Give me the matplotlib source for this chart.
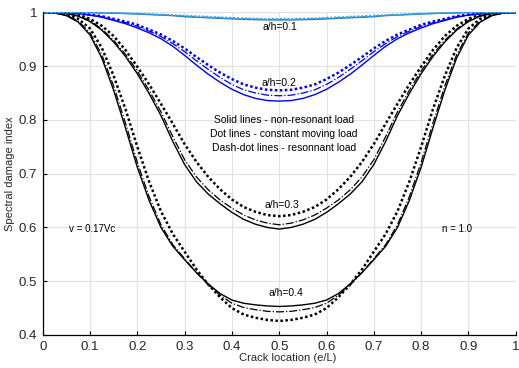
import matplotlib
matplotlib.use("Agg")
import matplotlib.pyplot as plt

plt.rcParams['font.family'] = ['Liberation Sans', 'DejaVu Sans']

# crack location, left half of the beam (curves are symmetric about e/L = 0.5)
x_half = [0.0, 0.025, 0.05, 0.075, 0.1, 0.125, 0.15, 0.175, 0.2, 0.225, 0.25,
          0.275, 0.3, 0.325, 0.35, 0.375, 0.4, 0.425, 0.45, 0.475, 0.5]

# a/h = 0.1
s1 = [1.0, 1.0, 1.0, 1.0, 0.9996, 0.999, 0.9985, 0.998, 0.997, 0.996, 0.995,
      0.994, 0.992, 0.991, 0.990, 0.989, 0.988, 0.987, 0.9865, 0.986, 0.986]
d1 = [1.0, 1.0, 1.0, 1.0, 0.9998, 0.9995, 0.999, 0.9985, 0.998, 0.997, 0.996,
      0.995, 0.994, 0.993, 0.992, 0.991, 0.990, 0.989, 0.9885, 0.988, 0.988]
c1 = [1.0, 1.0, 1.0, 1.0, 0.9997, 0.9992, 0.9988, 0.998, 0.9975, 0.9965, 0.9955,
      0.9945, 0.993, 0.992, 0.991, 0.990, 0.989, 0.988, 0.9875, 0.987, 0.987]

# a/h = 0.2
s2 = [1.0, 1.0, 0.999, 0.998, 0.995, 0.991, 0.985, 0.979, 0.971, 0.962, 0.951,
      0.937, 0.920, 0.902, 0.885, 0.870, 0.857, 0.847, 0.840, 0.836, 0.835]
d2 = [1.0, 1.0, 1.0, 0.998, 0.996, 0.993, 0.988, 0.983, 0.977, 0.968, 0.959,
      0.947, 0.933, 0.917, 0.902, 0.888, 0.876, 0.866, 0.860, 0.856, 0.855]
c2 = [1.0, 1.0, 0.999, 0.998, 0.995, 0.992, 0.986, 0.981, 0.974, 0.965, 0.955,
      0.942, 0.927, 0.910, 0.894, 0.879, 0.866, 0.856, 0.850, 0.846, 0.845]

# a/h = 0.3
s3 = [1.0, 1.0, 0.998, 0.993, 0.983, 0.967, 0.945, 0.918, 0.886, 0.849, 0.808,
      0.760, 0.717, 0.685, 0.662, 0.644, 0.628, 0.615, 0.606, 0.600, 0.597]
d3 = [1.0, 1.0, 0.999, 0.996, 0.988, 0.975, 0.956, 0.930, 0.899, 0.866, 0.830,
      0.793, 0.755, 0.722, 0.694, 0.671, 0.652, 0.638, 0.629, 0.623, 0.621]
c3 = [1.0, 1.0, 0.998, 0.994, 0.985, 0.969, 0.948, 0.922, 0.891, 0.855, 0.815,
      0.769, 0.726, 0.694, 0.670, 0.651, 0.636, 0.623, 0.614, 0.608, 0.605]

# a/h = 0.4
s4 = [1.0, 0.999, 0.994, 0.982, 0.958, 0.915, 0.855, 0.785, 0.712, 0.650, 0.600,
      0.565, 0.540, 0.516, 0.495, 0.477, 0.465, 0.459, 0.456, 0.454, 0.453]
d4 = [1.0, 1.0, 0.997, 0.988, 0.970, 0.934, 0.882, 0.820, 0.750, 0.685, 0.630,
      0.588, 0.555, 0.522, 0.494, 0.470, 0.450, 0.438, 0.432, 0.428, 0.426]
c4 = [1.0, 0.999, 0.995, 0.984, 0.962, 0.921, 0.863, 0.794, 0.721, 0.657, 0.605,
      0.568, 0.542, 0.516, 0.493, 0.474, 0.459, 0.451, 0.447, 0.444, 0.443]

x_ticks = [0, 0.1, 0.2, 0.3, 0.4, 0.5, 0.6, 0.7, 0.8, 0.9, 1]
x_tick_labels = ['0', '0.1', '0.2', '0.3', '0.4', '0.5', '0.6', '0.7', '0.8', '0.9', '1']
y_ticks = [0.4, 0.5, 0.6, 0.7, 0.8, 0.9, 1.0]
y_tick_labels = ['0.4', '0.5', '0.6', '0.7', '0.8', '0.9', '1']


def full(vals):
    # mirror the left half onto the right half
    return vals + vals[-2::-1]


x_full = x_half + [1 - v for v in x_half[-2::-1]]

fig = plt.figure(figsize=(5.19, 3.68), dpi=100)
ax = fig.add_axes([0.0823, 0.0897, 0.9114, 0.8766])

dot = (0, (1, 1))
groups = [
    (s4, d4, c4, 'black', 'black', 'black', 1.8),
    (s3, d3, c3, 'black', 'black', 'black', 1.8),
    (s2, d2, c2, '#0000ff', '#0000ff', '#0000ff', 1.8),
    (s1, d1, c1, '#1f78c8', '#1a8ad8', '#4aa8e8', 1.4),
]
for s, d, c, col, col_c, col_d, dlw in groups:
    ax.plot(x_full, full(s), '-', color=col, lw=1.0)
    ax.plot(x_full, full(c), '-.', color=col_c, lw=0.9)
    ax.plot(x_full, full(d), linestyle=dot, color=col_d, lw=dlw)

ax.set_xlim(0, 1)
ax.set_ylim(0.4, 1.0)
ax.set_xticks(x_ticks)
ax.set_xticklabels(x_tick_labels)
ax.set_yticks(y_ticks)
ax.set_yticklabels(y_tick_labels)
ax.grid(True, color='#e3e3e3', lw=0.9)
ax.set_axisbelow(True)
for side in ['top', 'right']:
    ax.spines[side].set_visible(False)
ax.spines['left'].set_linewidth(0.9)
ax.spines['bottom'].set_linewidth(0.9)
ax.tick_params(direction='in', length=3, width=0.8, labelsize=9.5,
               labelcolor='#262626', pad=4)

ax.set_xlabel('Crack location (e/L)', fontsize=8, color='#262626', labelpad=1)
ax.xaxis.set_label_coords(0.517, -0.055)
ax.set_ylabel('Spectral damage index', fontsize=8, color='#262626', labelpad=3)

ax.text(0.502, 0.973, 'a/h=0.1', fontsize=7.5, ha='center', va='center')
ax.text(0.5, 0.869, 'a/h=0.2', fontsize=7.5, ha='center', va='center')
ax.text(0.505, 0.641, 'a/h=0.3', fontsize=7.5, ha='center', va='center')
ax.text(0.514, 0.479, 'a/h=0.4', fontsize=7.5, ha='center', va='center')
ax.text(0.51, 0.774, 'Solid lines - non-resonant load\nDot lines - constant moving load\n'
        'Dash-dot lines - resonnant load', fontsize=7.5, ha='center', va='center',
        linespacing=1.45)
ax.text(0.105, 0.598, 'v = 0.17Vc', fontsize=7, ha='center', va='center')
ax.text(0.875, 0.598, 'n = 1.0', fontsize=7, ha='center', va='center')

fig.savefig('out.png', dpi=100)
